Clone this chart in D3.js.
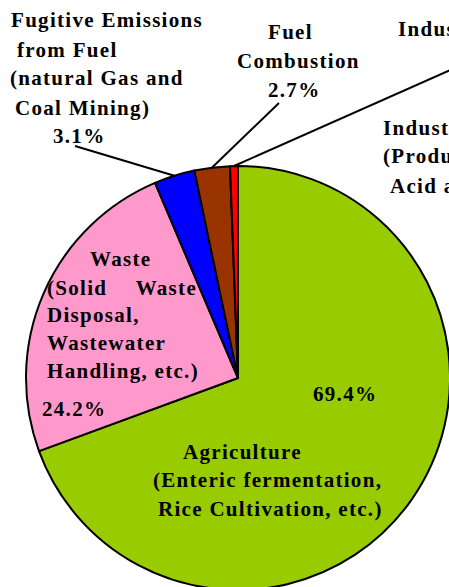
<!DOCTYPE html>
<html>
  <head>
    <meta charset="utf-8" />
    <title>Methane Emissions by Source</title>
    <script src="https://d3js.org/d3.v7.min.js"></script>
    <style>
        body {
            margin: 0;
            background: #fff;
        }
        text {
            font-family: "Liberation Serif", "Times New Roman", serif;
            font-weight: bold;
            font-size: 21px;
            letter-spacing: 1.3px;
            fill: #000;
        }
    </style>
  </head>
  <body>
    <svg id="pieChart"></svg>

    <script>
        // data
        var categories = ["Agriculture", "Waste", "Fugitive Emissions", "Fuel Combustion", "Industrial Processes"];
        var values = [69.4, 24.2, 3.1, 2.7, 0.6];
        var colors = ["#99cc00", "#ff99cc", "#0000ff", "#993300", "#ff0000"];
        var labelText = [
            ["Agriculture", "(Enteric fermentation,", "Rice Cultivation, etc.)"],
            ["Waste", "(Solid Waste", "Disposal,", "Wastewater", "Handling, etc.)"],
            ["Fugitive Emissions", "from Fuel", "(natural Gas and", "Coal Mining)"],
            ["Fuel", "Combustion"],
            ["Industrial Processes"]
        ];
        var sideNote = ["Industrial Processes", "(Production of Nitric", "Acid and Adipic Acid)"];

        var width = 449;
        var height = 587;
        var cx = 238, cy = 378, radius = 212;

        // label layout: [x, baseline] per line, then the percent line; w = justified width
        var labelPos = [
            {lines: [[183, 459], [153, 487], [158, 516]], pct: [313, 401]},
            {lines: [[90, 266], [47, 295, 150], [47, 322], [47, 350], [47, 378]], pct: [42, 416]},
            {lines: [[11, 27], [17, 57], [10, 85], [15, 115]], pct: [53, 143]},
            {lines: [[268, 39], [237, 68]], pct: [268, 97]},
            {lines: [[398, 36]], pct: [470, 65]}
        ];
        var leaderStart = [null, null, [75, 146], [279, 103], [482, 56]];
        var sideNotePos = [[383, 135], [383, 163], [390, 193]];

        var fmt = d3.format(".1f");

        var svg = d3.select("#pieChart").attr("width", width).attr("height", height);

        var pie = d3.pie().sort(null).value(function(d){ return d; });
        var arcs = pie(values);
        var arc = d3.arc().innerRadius(0).outerRadius(radius);

        var g = svg.append("g").attr("transform", "translate(" + cx + "," + cy + ")");

        g.selectAll("path")
            .data(arcs)
            .enter().append("path")
            .attr("d", arc)
            .attr("fill", function(d, i){ return colors[i]; })
            .attr("stroke", "#000")
            .attr("stroke-width", 2)
            .attr("stroke-linejoin", "round");

        // leader lines to the outer edge of small slices
        arcs.forEach(function(d, i){
            if (!leaderStart[i]) return;
            var a = (d.startAngle + d.endAngle) / 2;
            var ex = cx + radius * Math.sin(a);
            var ey = cy - radius * Math.cos(a);
            svg.append("line")
                .attr("x1", leaderStart[i][0]).attr("y1", leaderStart[i][1])
                .attr("x2", ex).attr("y2", ey)
                .attr("stroke", "#000")
                .attr("stroke-width", 2);
        });

        // labels
        labelText.forEach(function(lines, i){
            var pos = labelPos[i];
            lines.forEach(function(line, j){
                var p = pos.lines[j];
                if (p[2]) {
                    // justified line: first word at left, last word flush right
                    var words = line.split(" ");
                    svg.append("text").attr("x", p[0]).attr("y", p[1]).text(words[0]);
                    svg.append("text").attr("x", p[0] + p[2]).attr("y", p[1])
                        .attr("text-anchor", "end").text(words[words.length - 1]);
                } else {
                    svg.append("text").attr("x", p[0]).attr("y", p[1]).text(line);
                }
            });
            svg.append("text")
                .attr("x", pos.pct[0]).attr("y", pos.pct[1])
                .text(fmt(values[i]) + "%");
        });

        sideNote.forEach(function(line, j){
            svg.append("text")
                .attr("x", sideNotePos[j][0]).attr("y", sideNotePos[j][1])
                .text(line);
        });
    </script>
  </body>
</html>
